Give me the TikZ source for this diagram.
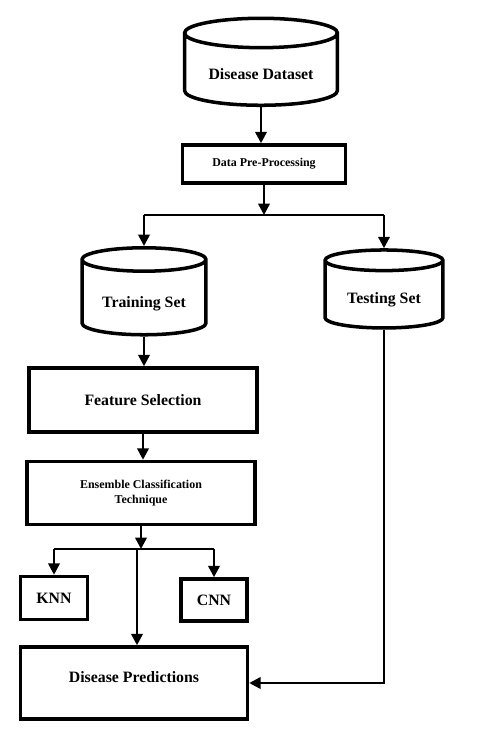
\documentclass[tikz,border=0pt]{standalone}
\usepackage{fontspec}
\setmainfont{Liberation Serif}
\usetikzlibrary{arrows.meta, positioning, shapes.geometric}

\begin{document}
\begin{tikzpicture}[x=0.02cm, y=-0.02cm,
  box/.style={draw, line width=2pt, fill=white, inner sep=0pt, font=\bfseries\fontsize{9}{11}\selectfont},
  smallbox/.style={box, font=\bfseries\fontsize{6.8}{9}\selectfont},
  store/.style={cylinder, shape border rotate=90, draw, line width=2pt, fill=white, aspect=0.28, inner sep=0pt, font=\bfseries\fontsize{9}{11}\selectfont},
  arr/.style={-{Triangle[length=6.5pt,width=6.5pt]}, line width=1.4pt},
  link/.style={line width=1.4pt}]
  \useasboundingbox (0,0) rectangle (481,748);

  % data side
  \node[store, minimum width=3.06cm, minimum height=1.74cm, text height=0.38cm] (dd) at (261,70) {Disease Dataset};
  \node[smallbox, minimum width=3.26cm, minimum height=0.76cm] (dpp) at (264,164) {Data Pre-Processing};
  \coordinate (split) at (264,215);
  \node[store, minimum width=2.48cm, minimum height=1.74cm, text height=0.46cm] (train) at (144,298) {Training Set};
  \node[store, minimum width=2.36cm, minimum height=1.56cm, text height=0.42cm] (test) at (384,295) {Testing Set};

  % model side
  \node[box, minimum width=4.56cm, minimum height=1.28cm] (fs) at (143,400) {Feature Selection};
  \node[smallbox, align=center, minimum width=4.56cm, minimum height=1.26cm] (ect) at (141,493) {Ensemble Classification\\Technique};
  \coordinate (fork) at (137,549);
  \node[box, minimum width=1.34cm, minimum height=0.86cm] (knn) at (54,598) {KNN};
  \node[box, minimum width=1.32cm, minimum height=0.84cm] (cnn) at (214,600) {CNN};
  \node[box, minimum width=4.54cm, minimum height=1.44cm, text depth=0.22cm] (pred) at (134,683) {Disease Predictions};

  % connectors
  \draw[arr] (dd.south) -- (dd.south |- dpp.north);
  \draw[arr] (dpp.south) -- (split);
  \draw[link] (train.north |- split) -- (test.north |- split);
  \draw[arr] (train.north |- split) -- (train.north);
  \draw[arr] (test.north |- split) -- (test.north);
  \draw[arr] (train.south) -- (train.south |- fs.north);
  \draw[arr] (fs.south) -- (fs.south |- ect.north);
  \draw[arr] (ect.south) -- (ect.south |- fork);
  \draw[link] (knn.north |- fork) -- (cnn.north |- fork);
  \draw[arr] (knn.north |- fork) -- (knn.north);
  \draw[arr] (cnn.north |- fork) -- (cnn.north);
  \draw[arr] (fork) -- (fork |- pred.north);
  \draw[arr] (test.south) |- (pred.east);
\end{tikzpicture}
\end{document}
